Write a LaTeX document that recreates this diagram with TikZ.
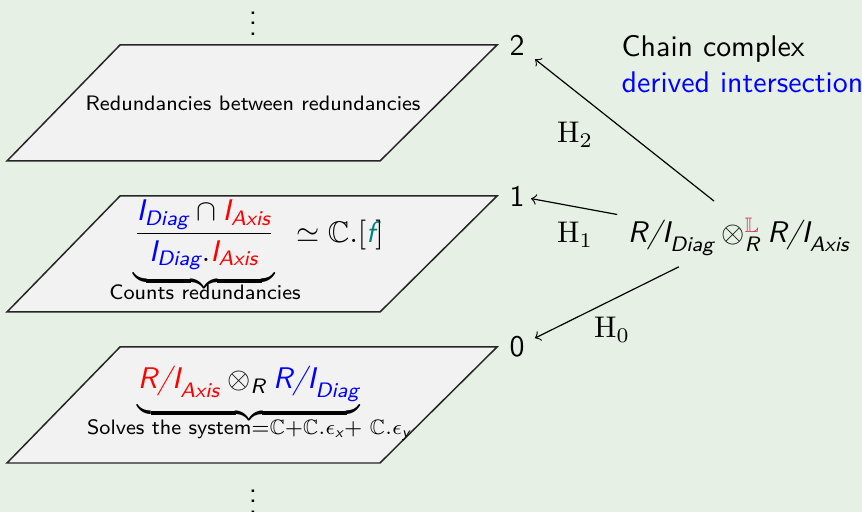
\documentclass[tikz,border=0pt]{standalone}
\usepackage{amsmath,amssymb}
\usepackage{xcolor}
\usetikzlibrary{positioning}
\renewcommand{\familydefault}{\sfdefault}

\definecolor{slidebg}{RGB}{230,240,228}
\definecolor{planefill}{RGB}{242,242,242}
\definecolor{derivmag}{RGB}{215,40,100}
\definecolor{fteal}{RGB}{0,128,128}
\newcommand{\sfit}[1]{\textit{#1}}
\newcommand{\IDiag}{\textcolor{blue}{\sfit{I}_{\sfit{Diag}}}}
\newcommand{\IAxis}{\textcolor{red}{\sfit{I}_{\sfit{Axis}}}}
\newcommand{\dotstack}{\vbox{\baselineskip3.6pt\lineskiplimit0pt\hbox{.}\hbox{.}\hbox{.}}}

\begin{document}
\begin{tikzpicture}[
  x=0.011765cm, y=-0.011765cm,
  plane/.style={draw=black!85, fill=planefill, line width=0.5pt},
  deg/.style={font=\normalsize, inner sep=2pt},
  map/.style={->, thin},
  hlabel/.style={font=\normalsize, inner sep=1pt},
  inplane/.style={font=\scriptsize, inner sep=0pt},
  formula/.style={anchor=base, inner sep=0pt},
]
\fill[slidebg] (0,0) rectangle (862,512);
\useasboundingbox (0,0) rectangle (862,512);

% One plane per homological degree
\foreach \y/\d in {45/2,196/1,347/0}{
  \draw[plane] (120,\y) -- (497,\y) -- (380,\y+116) -- (7,\y+116) -- cycle;
  \node[deg] (deg\d) at (517,\y) {\d};
}
\node[inner sep=0pt, anchor=north] (topdots) at (253,11) {\dotstack};
\node[inner sep=0pt, anchor=north] (botdots) at (253,489) {\dotstack};

% Contents of the planes
\node[inplane] (redred) at (253,103) {Redundancies between redundancies};

\node[formula] (quot) at (204,241)
  {$\underbrace{\dfrac{\IDiag\cap\IAxis}{\IDiag.\IAxis}}$};
\node[formula] (qiso) at (340,243) {$\simeq\mathbb{C}.[\textcolor{fteal}{\sfit{f}}]$};
\node[inplane, anchor=base] (countlbl) at (205,300) {Counts redundancies};

\node[formula] (tensor) at (249,389)
  {$\underbrace{\textcolor{red}{\sfit{R/I}_{\sfit{Axis}}}\otimes_{\sfit{R}}
   \textcolor{blue}{\sfit{R/I}_{\sfit{Diag}}}}$};
\node[inplane, anchor=base] (solvelbl) at (249,435)
  {Solves the system$\mathord{=}\mathbb{C}\mathord{+}\mathbb{C}.\epsilon_{\sfit{x}}\mathord{+}\ \mathbb{C}.\epsilon_{\sfit{y}}$};

% Derived tensor product and its homology
\node[anchor=base] (ctr) at (739,243)
  {$\sfit{R/I}_{\sfit{Diag}}\otimes^{\textcolor{derivmag}{\mathbb{L}}}_{\sfit{R}}\sfit{R/I}_{\sfit{Axis}}$};
\node[anchor=west, align=left, inner sep=0pt] (title) at (621,64)
  {Chain complex\\\textcolor{blue}{derived intersection}};

\draw[map, shorten <=0.68cm, shorten >=0.06cm] ([xshift=0.24cm]ctr.center) -- (deg2);
\draw[map] (ctr) -- (deg1);
\draw[map, shorten >=0.05cm] (ctr) -- (deg0);

\node[hlabel] (h2) at (575,135) {$\mathrm{H}_2$};
\node[hlabel] (h1) at (575,235) {$\mathrm{H}_1$};
\node[hlabel] (h0) at (612,330) {$\mathrm{H}_0$};
\end{tikzpicture}
\end{document}
